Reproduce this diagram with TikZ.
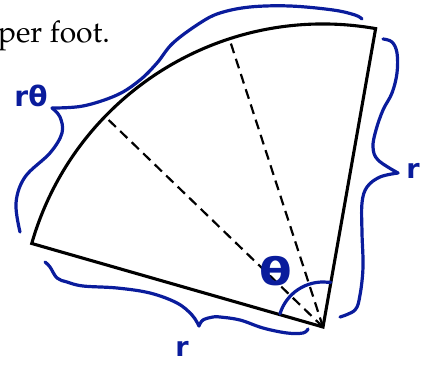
\documentclass[tikz,border=0pt]{standalone}
\usepackage{fontspec}
\usetikzlibrary{calc}
\newfontfamily\handfont{DejaVu Sans}
\definecolor{ink}{HTML}{0A1C9C}
\tikzset{
  edge/.style={line width=3.1pt, line join=miter},
  cut/.style={line width=2.2pt, dash pattern=on 10pt off 6pt},
  brace/.style={draw=ink, line width=3.2pt, line cap=round, line join=round},
  hand/.style={text=ink, inner sep=0pt, font=\handfont\bfseries}
}

\begin{document}
\begin{tikzpicture}[x=1pt, y=1pt]
  \useasboundingbox (0,0) rectangle (433,364);
  \node[anchor=base east, inner sep=0pt,
        font=\fontsize{30}{34}\usefont{OT1}{ppl}{m}{n}] (caption) at (110,321) {per foot.};

  % the sector and its two cuts
  \coordinate (O) at (323,37);
  \path (O) ++(164:303) coordinate (A);
  \path (O) ++(80:303) coordinate (B);
  \draw[edge] (O) -- (A) arc[start angle=164, end angle=80, radius=303] -- cycle;
  \foreach \a/\name in {108/cutB, 136/cutA}
    \draw[cut] (O) -- ($(O)+(\a:303)$) coordinate (\name);

  % hand drawn braces
  \draw[brace] plot[smooth, tension=0.6] coordinates
    {(20,132) (16,161) (25,187) (50,211) (62,231) (60,247) (52,256)};
  \draw[brace] plot[smooth, tension=0.6] coordinates
    {(52,256) (83,258) (117,269) (140,284) (157,301) (173,321) (200,341)
     (220,351) (250,357) (290,358) (333,354) (355,349) (362,345)};
  \draw[brace] plot[smooth, tension=0.6] coordinates
    {(383,325) (392,322) (397,311) (397,291) (392,271) (383,254) (376,234)
     (373,217) (378,204) (398,191)};
  \draw[brace] plot[smooth, tension=0.6] coordinates
    {(398,191) (380,187) (367,177) (362,161) (362,131) (363,97) (360,69)
     (355,54) (340,47)};
  \draw[brace] plot[smooth, tension=0.6] coordinates
    {(45,102) (50,97) (57,86) (67,82) (83,78) (117,76) (150,71) (177,61)
     (192,49) (199,38)};
  \draw[brace] plot[smooth, tension=0.6] coordinates
    {(199,38) (203,44) (213,47) (220,47) (240,44) (263,36) (287,31)
     (303,31) (308,35)};
  \draw[brace] ($(O)+(163:45)$) arc[start angle=163, end angle=84, radius=45]
    -- ++(3,0);

  % labels
  \node[hand, font=\handfont\bfseries\fontsize{28}{30}\selectfont] (arclen) at (31,268) {rθ};
  \node[hand, font=\handfont\bfseries\fontsize{27}{30}\selectfont] (rside) at (413,193) {r};
  \node[hand, font=\handfont\bfseries\fontsize{27}{30}\selectfont] (rbase) at (182,15) {r};
  \node[hand, xscale=1.25, transform shape,
        font=\handfont\bfseries\fontsize{38}{40}\selectfont] (angle) at (276,93) {θ};
\end{tikzpicture}
\end{document}
